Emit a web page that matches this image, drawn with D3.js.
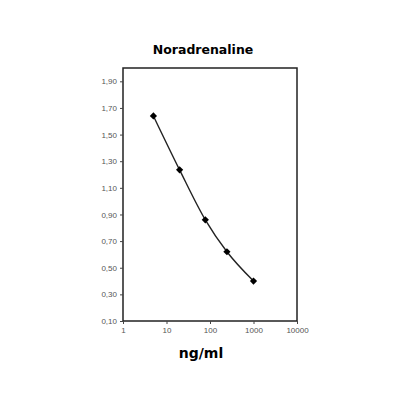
<!DOCTYPE html>
<html><head><meta charset="utf-8">
<script src="https://cdn.jsdelivr.net/npm/d3@7"></script>
<style>body{margin:0;background:#fff}</style>
</head><body>
<svg id="c" width="400" height="400"></svg>
<script>
const concentrations = [5, 20, 78, 245, 1000];
const absorbance = [1.64, 1.235, 0.86, 0.62, 0.40];
const xTicks = [1, 10, 100, 1000, 10000];
const yTicks = [0.10, 0.30, 0.50, 0.70, 0.90, 1.10, 1.30, 1.50, 1.70, 1.90];
const title = "Noradrenaline";
const xLabel = "ng/ml";

const svg = d3.select("#c");
const L = 123, R = 297, T = 68, B = 321;
const x = d3.scaleLog().domain([1, 10000]).range([L, R]);
const y = d3.scaleLinear().domain([0.1, 2.0]).range([B, T]);

svg.append("rect").attr("x", L).attr("y", T).attr("width", R - L).attr("height", B - T)
  .attr("fill", "none").attr("stroke", "#222").attr("stroke-width", 1.5);

const fmt = d => d3.format(".2f")(d).replace(".", ",");
const ya = svg.append("g").attr("transform", `translate(${L},0)`)
  .call(d3.axisLeft(y).tickValues(yTicks).tickFormat(fmt).tickSize(3).tickPadding(3));
const xa = svg.append("g").attr("transform", `translate(0,${B})`)
  .call(d3.axisBottom(x).tickValues(xTicks).tickFormat(d3.format("d")).tickSize(3).tickPadding(3));
[ya, xa].forEach(a => {
  a.select(".domain").remove();
  a.selectAll("line").attr("stroke", "#444");
  a.selectAll("text").attr("font-family", "'Liberation Sans', Arial, sans-serif")
    .attr("font-size", 8).attr("fill", "#555");
});

const pts = concentrations.map((c, i) => [x(c), y(absorbance[i])]);
svg.append("path").attr("d", d3.line().curve(d3.curveMonotoneX)(pts))
  .attr("fill", "none").attr("stroke", "#222").attr("stroke-width", 1.4);
svg.selectAll(".m").data(pts).enter().append("path")
  .attr("transform", d => `translate(${d[0]},${d[1]}) rotate(45)`)
  .attr("d", d3.symbol().type(d3.symbolSquare).size(26)).attr("fill", "#000");

svg.append("text").attr("x", 203).attr("y", 54).attr("text-anchor", "middle")
  .attr("font-family", "'DejaVu Sans', Verdana, sans-serif").attr("font-weight", "bold")
  .attr("font-size", 12.5).text(title);
svg.append("text").attr("x", 201).attr("y", 358).attr("text-anchor", "middle")
  .attr("font-family", "'DejaVu Sans', Verdana, sans-serif").attr("font-weight", "bold")
  .attr("font-size", 14).text(xLabel);
</script>
</body></html>
